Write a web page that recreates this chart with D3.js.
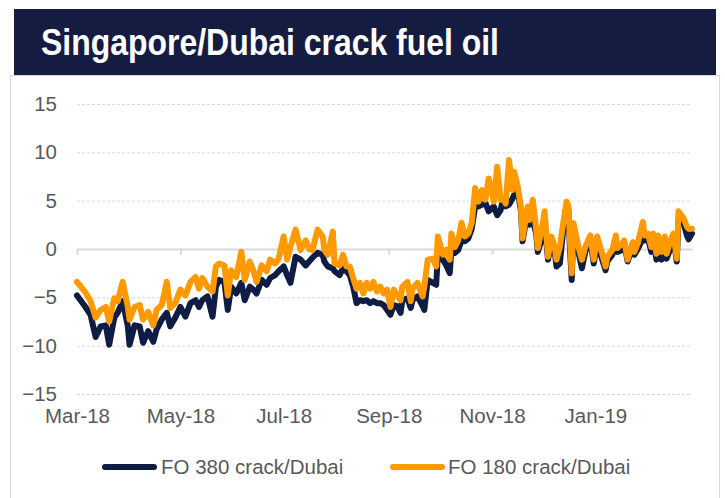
<!DOCTYPE html>
<html>
<head>
<meta charset="utf-8">
<script src="https://cdn.jsdelivr.net/npm/d3@7"></script>
<style>
  body { margin: 0; background: #fff; }
  text { font-family: "Liberation Sans", Arial, sans-serif; }
</style>
</head>
<body>
<div id="chart"></div>
<script>
const width = 725
const height = 498

const title = "Singapore/Dubai crack fuel oil"
const seriesNames = ["FO 380 crack/Dubai", "FO 180 crack/Dubai"]
const yTicks = [-15, -10, -5, 0, 5, 10, 15]
const xTicks = ["2018-03-01", "2018-05-01", "2018-07-01", "2018-09-01", "2018-11-01", "2019-01-01"]

const dates = [
  "2018-03-01","2018-03-06","2018-03-09","2018-03-12","2018-03-15","2018-03-18","2018-03-20","2018-03-23","2018-03-25","2018-03-28",
  "2018-03-31","2018-04-01","2018-04-04","2018-04-07","2018-04-09","2018-04-12","2018-04-15","2018-04-17","2018-04-20","2018-04-23",
  "2018-04-25","2018-04-28","2018-05-01","2018-05-04","2018-05-07","2018-05-10","2018-05-12","2018-05-14","2018-05-17","2018-05-20",
  "2018-05-22","2018-05-24","2018-05-27","2018-05-29","2018-05-31","2018-06-03","2018-06-06","2018-06-08","2018-06-11","2018-06-13",
  "2018-06-15","2018-06-18","2018-06-21","2018-06-23","2018-06-26","2018-06-28","2018-07-01","2018-07-03","2018-07-05","2018-07-08",
  "2018-07-11","2018-07-14","2018-07-16","2018-07-18","2018-07-21","2018-07-24","2018-07-25","2018-07-27","2018-07-30","2018-07-31",
  "2018-08-03","2018-08-05","2018-08-07","2018-08-09","2018-08-11","2018-08-13","2018-08-15","2018-08-17","2018-08-19","2018-08-21",
  "2018-08-23","2018-08-25","2018-08-27","2018-08-29","2018-08-31","2018-09-02","2018-09-04","2018-09-06","2018-09-08","2018-09-09",
  "2018-09-12","2018-09-14","2018-09-15","2018-09-18","2018-09-21","2018-09-22","2018-09-24","2018-09-27","2018-09-29","2018-09-30",
  "2018-10-03","2018-10-05","2018-10-07","2018-10-08","2018-10-10","2018-10-12","2018-10-14","2018-10-16","2018-10-18","2018-10-20",
  "2018-10-22","2018-10-24","2018-10-26","2018-10-28","2018-10-30","2018-11-02","2018-11-04","2018-11-06","2018-11-07","2018-11-09",
  "2018-11-11","2018-11-13","2018-11-14","2018-11-16","2018-11-18","2018-11-19","2018-11-22","2018-11-23","2018-11-25","2018-11-27",
  "2018-11-28","2018-12-01","2018-12-02","2018-12-04","2018-12-06","2018-12-08","2018-12-09","2018-12-11","2018-12-13","2018-12-15",
  "2018-12-16","2018-12-17","2018-12-18","2018-12-19","2018-12-22","2018-12-24","2018-12-26","2018-12-29","2018-12-31","2019-01-02",
  "2019-01-05","2019-01-07","2019-01-08","2019-01-11","2019-01-13","2019-01-14","2019-01-17","2019-01-18","2019-01-20","2019-01-23",
  "2019-01-24","2019-01-26","2019-01-29","2019-01-30","2019-02-01","2019-02-03","2019-02-04","2019-02-06","2019-02-07","2019-02-09",
  "2019-02-11","2019-02-12","2019-02-14","2019-02-16","2019-02-18","2019-02-19","2019-02-22","2019-02-24","2019-02-25","2019-02-27"
]

const fo380 = [
  -4.8,-6.0,-6.8,-9.1,-8.0,-7.9,-9.9,-7.1,-6.6,-5.4,
  -8.0,-9.9,-7.9,-8.0,-9.7,-8.5,-9.6,-8.3,-7.3,-6.6,
  -8.0,-7.1,-6.0,-7.0,-5.6,-5.3,-6.0,-5.3,-4.9,-7.0,
  -3.9,-3.2,-3.4,-6.3,-3.9,-4.6,-3.5,-5.3,-3.9,-4.2,
  -4.6,-3.2,-3.7,-3.0,-2.7,-2.3,-1.8,-2.7,-3.5,-0.8,
  -1.1,-1.7,-1.3,-0.9,-0.4,-0.6,-1.3,-1.8,-2.0,-2.3,
  -2.7,-2.0,-2.3,-2.7,-3.9,-5.6,-5.3,-5.4,-5.3,-5.6,
  -5.4,-5.6,-5.6,-5.8,-6.3,-6.8,-5.8,-5.9,-6.6,-5.3,
  -5.1,-6.1,-5.3,-4.9,-5.9,-6.3,-3.2,-3.5,-3.7,-0.6,
  -1.1,-1.7,-2.5,-0.1,-0.4,-0.1,0.9,0.8,1.1,2.1,
  4.4,4.4,4.6,4.8,3.9,4.4,3.5,4.0,4.8,4.4,
  4.6,5.2,5.6,6.1,4.0,0.8,3.9,2.5,3.0,1.6,
  -0.3,1.4,2.7,-1.1,0.6,-0.3,-1.8,-1.5,2.0,4.5,
  4.0,-0.1,-3.2,2.0,-0.3,-2.0,-0.3,0.9,-1.5,0.6,
  -1.1,-2.2,-1.3,-0.6,0.9,-0.3,-0.1,0.6,-1.3,0.2,
  -0.6,0.0,1.1,0.9,1.1,-0.3,1.2,-1.1,0.5,-1.1,
  0.6,-1.0,-0.1,1.2,-1.3,3.0,2.7,1.4,1.0,1.6
]

const fo180 = [
  -3.4,-4.5,-5.4,-7.1,-6.3,-6.0,-7.5,-5.1,-5.4,-3.4,
  -6.0,-7.3,-6.0,-5.8,-7.3,-6.5,-7.9,-6.3,-5.8,-3.4,
  -6.1,-5.6,-4.2,-4.8,-3.4,-2.9,-4.1,-3.0,-3.9,-4.4,
  -1.8,-1.5,-1.7,-4.8,-2.2,-2.9,-0.3,-3.2,-1.3,-2.2,
  -3.4,-1.7,-2.3,-1.1,-1.5,-1.0,1.3,-1.1,0.2,2.0,
  -0.1,0.9,0.0,-0.1,2.0,1.3,-0.1,-0.6,1.8,-1.5,
  -1.7,-0.6,-1.8,-1.8,-3.0,-4.1,-3.5,-4.6,-3.5,-4.1,
  -3.4,-4.4,-3.9,-4.6,-4.2,-6.0,-4.2,-4.8,-5.3,-3.9,
  -3.4,-5.4,-4.1,-3.5,-4.9,-3.9,-1.1,-1.0,-1.8,1.3,
  -0.6,-0.1,-1.1,1.6,0.2,0.9,2.7,1.3,1.6,2.7,
  6.3,4.9,6.1,5.1,7.3,4.9,8.5,5.1,5.3,4.7,
  9.2,6.1,8.0,6.6,4.4,1.1,4.4,3.0,5.1,2.1,
  0.1,2.7,3.9,-0.8,1.3,0.2,-1.1,0.2,2.7,4.9,
  4.5,0.9,-2.5,2.7,0.2,-1.1,0.2,1.4,-1.1,1.3,
  -0.5,-1.8,-0.8,-0.1,1.4,0.1,0.6,0.9,-1.1,0.7,
  -0.3,0.6,2.8,1.4,1.6,0.2,1.6,-0.5,1.4,-0.3,
  1.3,-0.5,0.7,1.6,-1.0,3.9,3.2,2.3,2.1,2.1
]

const parse = d3.timeParse("%Y-%m-%d")
const rows = dates.map((d, i) => ({date: parse(d), a: fo380[i], b: fo180[i]}))

const svg = d3.select("#chart").append("svg").attr("width", width).attr("height", height)

// panel + title bar
svg.append("rect")
  .attr("x", 10.5).attr("y", 75.5).attr("width", 709).attr("height", 440)
  .attr("fill", "#fff").attr("stroke", "#d9d9d9")
svg.append("rect")
  .attr("x", 14).attr("y", 9).attr("width", 702).attr("height", 66)
  .attr("fill", "#141c41")
svg.append("text")
  .attr("x", 41).attr("y", 55)
  .attr("fill", "#fff")
  .attr("font-size", 37).attr("font-weight", "bold")
  .style("font-family", "'Liberation Sans Narrow', 'Liberation Sans', Arial, sans-serif")
  .attr("textLength", 458).attr("lengthAdjust", "spacingAndGlyphs")
  .text(title)

const x = d3.scaleTime()
  .domain([parse("2018-03-01"), parse("2019-02-27")])
  .range([77, 692])
const y = d3.scaleLinear().domain([-15, 15]).range([394, 104])

// gridlines
svg.append("g").selectAll("line").data(yTicks.filter(d => d !== 0))
  .join("line")
    .attr("x1", 77).attr("x2", 692)
    .attr("y1", d => y(d) + 0.5).attr("y2", d => y(d) + 0.5)
    .attr("stroke", "#d9d9d9").attr("stroke-dasharray", "3,2")

// y labels
const yAxis = d3.axisLeft(y).tickValues(yTicks).tickSize(0).tickPadding(20).tickFormat(d3.format("d"))
svg.append("g").attr("transform", "translate(77,0)").call(yAxis)
  .call(g => g.select(".domain").remove())
  .selectAll("text").attr("font-size", 20.5).attr("fill", "#595959")

// zero axis line with ticks
const tickDates = xTicks.map(parse)
const zeroAxis = d3.axisBottom(x).tickValues(tickDates).tickSize(6).tickSizeOuter(0).tickFormat("")
svg.append("g").attr("transform", `translate(0,${y(0)})`).call(zeroAxis)
  .call(g => g.select(".domain").attr("stroke", "#d9d9d9").attr("stroke-width", 2))
  .call(g => g.selectAll(".tick line").attr("stroke", "#d9d9d9").attr("stroke-width", 2))

// bottom labels
const xAxis = d3.axisBottom(x).tickValues(tickDates).tickSize(0).tickPadding(3).tickFormat(d3.timeFormat("%b-%y"))
svg.append("g").attr("transform", "translate(0,405)").call(xAxis)
  .call(g => g.select(".domain").remove())
  .selectAll("text").attr("font-size", 20.5).attr("fill", "#595959")

// lines
const colors = ["#0f1d45", "#ff9900"]
const line380 = d3.line().x(d => x(d.date)).y(d => y(d.a))
const line180 = d3.line().x(d => x(d.date)).y(d => y(d.b))

svg.append("path").datum(rows)
  .attr("d", line380).attr("fill", "none").attr("stroke", colors[0])
  .attr("stroke-width", 6).attr("stroke-linejoin", "round").attr("stroke-linecap", "round")
svg.append("path").datum(rows)
  .attr("d", line180).attr("fill", "none").attr("stroke", colors[1])
  .attr("stroke-width", 6).attr("stroke-linejoin", "round").attr("stroke-linecap", "round")

// legend
const legendPos = [{x: 102, tx: 161}, {x: 390, tx: 448}]
const legend = svg.append("g").selectAll("g").data(seriesNames).join("g")
legend.append("line")
  .attr("x1", (d, i) => legendPos[i].x + 3).attr("x2", (d, i) => legendPos[i].x + 52)
  .attr("y1", 467).attr("y2", 467)
  .attr("stroke", (d, i) => colors[i]).attr("stroke-width", 6).attr("stroke-linecap", "round")
legend.append("text")
  .attr("x", (d, i) => legendPos[i].tx).attr("y", 474)
  .attr("font-size", 20.5).attr("fill", "#595959")
  .text(d => d)
</script>
</body>
</html>
